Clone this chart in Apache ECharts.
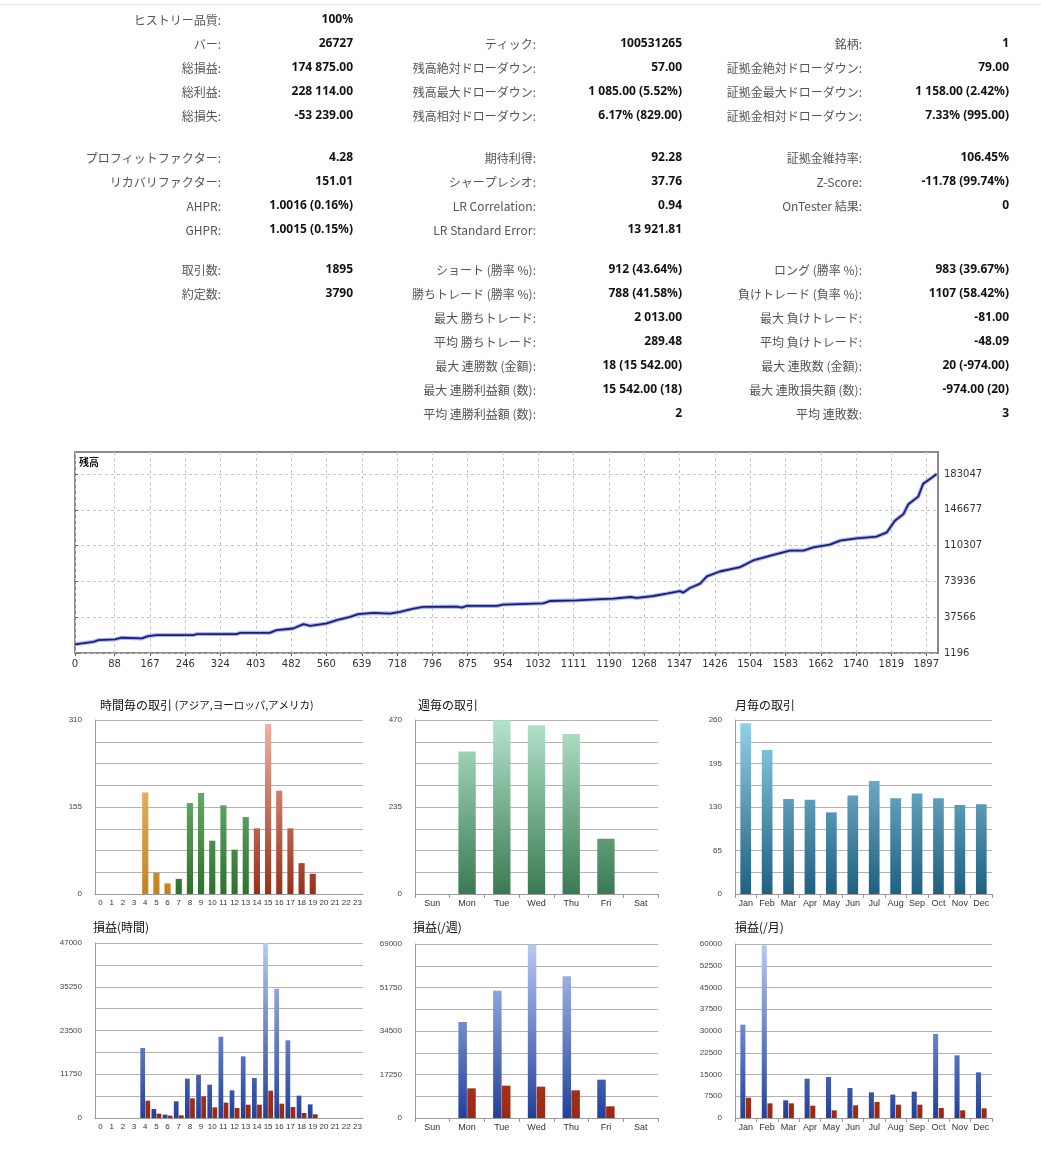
<!DOCTYPE html>
<html><head><meta charset="utf-8">
<script src="https://cdn.jsdelivr.net/npm/echarts@6/dist/echarts.min.js"></script>
<style>html,body{margin:0;padding:0;background:#fff}#c{width:1041px;height:1160px}</style>
</head><body><div id="c"></div>
<script>
// ---------- statistics table ----------
const statsTopLabels1 = ['ヒストリー品質:','バー:','総損益:','総利益:','総損失:'];
const statsTopValues1 = ['100%','26727','174 875.00','228 114.00','-53 239.00'];
const statsTopLabels2 = ['','ティック:','残高絶対ドローダウン:','残高最大ドローダウン:','残高相対ドローダウン:'];
const statsTopValues2 = ['','100531265','57.00','1 085.00 (5.52%)','6.17% (829.00)'];
const statsTopLabels3 = ['','銘柄:','証拠金絶対ドローダウン:','証拠金最大ドローダウン:','証拠金相対ドローダウン:'];
const statsTopValues3 = ['','1','79.00','1 158.00 (2.42%)','7.33% (995.00)'];
const statsMidLabels1 = ['プロフィットファクター:','リカバリファクター:','AHPR:','GHPR:'];
const statsMidValues1 = ['4.28','151.01','1.0016 (0.16%)','1.0015 (0.15%)'];
const statsMidLabels2 = ['期待利得:','シャープレシオ:','LR Correlation:','LR Standard Error:'];
const statsMidValues2 = ['92.28','37.76','0.94','13 921.81'];
const statsMidLabels3 = ['証拠金維持率:','Z-Score:','OnTester 結果:'];
const statsMidValues3 = ['106.45%','-11.78 (99.74%)','0'];
const statsBotLabels1 = ['取引数:','約定数:'];
const statsBotValues1 = ['1895','3790'];
const statsBotLabels2 = ['ショート (勝率 %):','勝ちトレード (勝率 %):','最大 勝ちトレード:','平均 勝ちトレード:','最大 連勝数 (金額):','最大 連勝利益額 (数):','平均 連勝利益額 (数):'];
const statsBotValues2 = ['912 (43.64%)','788 (41.58%)','2 013.00','289.48','18 (15 542.00)','15 542.00 (18)','2'];
const statsBotLabels3 = ['ロング (勝率 %):','負けトレード (負率 %):','最大 負けトレード:','平均 負けトレード:','最大 連敗数 (金額):','最大 連敗損失額 (数):','平均 連敗数:'];
const statsBotValues3 = ['983 (39.67%)','1107 (58.42%)','-81.00','-48.09','20 (-974.00)','-974.00 (20)','3'];

// ---------- balance curve ----------
const equityTitle = '残高';
const equityTrade = [0,41,52,89,104,149,163,182,264,271,360,368,434,449,486,509,524,561,583,613,631,665,702,724,754,776,850,862,873,940,954,1043,1058,1118,1162,1199,1237,1252,1289,1318,1348,1355,1370,1393,1408,1437,1482,1511,1556,1593,1623,1645,1682,1705,1742,1786,1809,1827,1846,1857,1879,1890,1909,1920];
const equityBalance = [10000,12600,14300,15000,16700,16000,18400,19400,19400,20400,20400,21700,21700,24400,26100,30500,28800,31200,34500,37900,40600,41900,41300,42900,46300,48000,48400,47400,49000,49000,50400,51700,54000,54700,55700,56400,58100,57100,59100,61500,64100,62500,67200,71600,79000,84000,88400,95200,100900,105300,105300,108600,111300,115400,117700,119400,123800,135600,142300,152400,160100,173200,179300,183047];
const equityXTicks = [0,88,167,246,324,403,482,560,639,718,796,875,954,1032,1111,1190,1268,1347,1426,1504,1583,1662,1740,1819,1897];
const equityYTicks = [1196,37566,73936,110307,146677,183047];

// ---------- distribution charts ----------
const chartTitles = ['時間毎の取引 (アジア,ヨーロッパ,アメリカ)','週毎の取引','月毎の取引','損益(時間)','損益(/週)','損益(/月)'];
const hours = ['0','1','2','3','4','5','6','7','8','9','10','11','12','13','14','15','16','17','18','19','20','21','22','23'];
const hourTrades = [0,0,0,0,181,38,19,27,162,180,95,158,79,137,117,303,184,117,55,36,0,0,0,0];
const weekDays = ['Sun','Mon','Tue','Wed','Thu','Fri','Sat'];
const weekTrades = [0,385,469,456,432,149,0];
const months = ['Jan','Feb','Mar','Apr','May','Jun','Jul','Aug','Sep','Oct','Nov','Dec'];
const monthTrades = [255,215,142,141,122,147,169,143,150,143,133,134];
const hourProfit = [0,0,0,0,18800,2420,900,4480,10560,11550,8950,21840,7430,16560,10740,46900,34740,20860,6000,3670,0,0,0,0];
const hourLoss = [0,0,0,0,4650,1160,630,720,5280,5820,2860,4120,2690,3580,3580,7340,3850,2950,1340,985,0,0,0,0];
const weekProfit = [0,38070,50490,68740,56180,15200,0];
const weekLoss = [0,11760,12820,12430,10970,4630,0];
const monthProfit = [32180,59540,6090,13560,14140,10340,8850,8050,9080,28970,21610,15750];
const monthLoss = [7010,5060,5060,4250,2640,4370,5520,4600,4600,3450,2640,3330];
const axisMax = [310,470,260,47000,69000,60000];
const labelEvery = [4,4,2,2,2,1];

// ---------- build ----------
const JP = '"Noto Sans CJK JP","Noto Sans",sans-serif';
const graphics = [];
graphics.push({type:'rect', shape:{x:0,y:4,width:1041,height:1}, style:{fill:'#e4e4e4'}, silent:true});
const labelRight = [221, 536, 862];
const valueRight = [353, 682, 1009];
function addBlock(labels, values, col, y0) {
  labels.forEach((l, i) => {
    const y = y0 + i * 24;
    if (l) graphics.push({type:'text', x:labelRight[col], y:y, silent:true,
      style:{text:l, textAlign:'right', textVerticalAlign:'middle', fontSize:12, fontFamily:JP, fill:'#555'}});
    if (values[i]) graphics.push({type:'text', x:valueRight[col], y:y, silent:true,
      style:{text:values[i], textAlign:'right', textVerticalAlign:'middle', fontSize:12, fontWeight:'bold', fontFamily:'"Noto Sans",sans-serif', fill:'#111'}});
  });
}
addBlock(statsTopLabels1, statsTopValues1, 0, 20);
addBlock(statsTopLabels2, statsTopValues2, 1, 20);
addBlock(statsTopLabels3, statsTopValues3, 2, 20);
addBlock(statsMidLabels1, statsMidValues1, 0, 158);
addBlock(statsMidLabels2, statsMidValues2, 1, 158);
addBlock(statsMidLabels3, statsMidValues3, 2, 158);
addBlock(statsBotLabels1, statsBotValues1, 0, 270);
addBlock(statsBotLabels2, statsBotValues2, 1, 270);
addBlock(statsBotLabels3, statsBotValues3, 2, 270);
graphics.push({type:'text', x:79, y:462, silent:true,
  style:{text:equityTitle, textAlign:'left', textVerticalAlign:'middle', fontSize:10, fontWeight:'bold', fontFamily:JP, fill:'#111'}});

const barGrids = [
  {left:95, top:720, width:268, height:174},
  {left:415, top:720, width:243, height:174},
  {left:735, top:720, width:257, height:174},
  {left:95, top:943, width:268, height:175},
  {left:415, top:944, width:243, height:174},
  {left:735, top:944, width:257, height:174}
];
const titlePos = [[100,699],[418,699],[735,699],[93,921],[413,921],[735,921]];

function grad(gi, c0, c1) {
  const g = barGrids[gi];
  return new echarts.graphic.LinearGradient(0, g.top, 0, g.top + g.height,
    [{offset:0, color:c0}, {offset:1, color:c1}], true);
}

const grids = [{left:75, top:452, width:863, height:201, show:true, borderColor:'#8a8a8a', borderWidth:2, backgroundColor:'#fff'}]
  .concat(barGrids);

const xAxes = [{
  type:'value', gridIndex:0, min:0, max:1923,
  axisLine:{show:false},
  axisTick:{show:true, customValues:equityXTicks, length:3, lineStyle:{color:'#666'}},
  axisLabel:{customValues:equityXTicks, fontSize:10, color:'#333', margin:6, fontFamily:'"DejaVu Sans",sans-serif',
    formatter:v => String(Math.round(v))},
  splitLine:{show:true, lineStyle:{color:'#c6c6c6', type:[3,3]}}
}];
const yAxes = [{
  type:'value', gridIndex:0, position:'right', min:1196, max:205400,
  axisLine:{show:false},
  axisTick:{show:true, customValues:equityYTicks, length:3, lineStyle:{color:'#666'}},
  axisLabel:{customValues:equityYTicks, fontSize:10, color:'#333', margin:6, fontFamily:'"DejaVu Sans",sans-serif', formatter:v => String(Math.round(v))},
  splitLine:{show:true, lineStyle:{color:'#c6c6c6', type:[3,3]}}
}];
const catData = [hours, weekDays, months, hours, weekDays, months];
for (let i = 0; i < 6; i++) {
  const ticks = !(i === 0 || i === 3);
  xAxes.push({type:'category', gridIndex:i+1, data:catData[i], boundaryGap:true,
    axisLine:{lineStyle:{color:'#9a9a9a'}},
    axisTick:{show:ticks, length:4, lineStyle:{color:'#9a9a9a'}},
    axisLabel:{interval:0, fontSize:(i===0||i===3)?8:9, color:'#333', margin:5, fontFamily:'"Liberation Sans",sans-serif'}});
  const iv = axisMax[i] / 8;
  const every = labelEvery[i];
  yAxes.push({type:'value', gridIndex:i+1, min:0, max:axisMax[i], interval:iv,
    axisLine:{show:true, lineStyle:{color:'#9a9a9a'}}, axisTick:{show:false},
    splitLine:{lineStyle:{color:'#b2b2b2'}},
    axisLabel:{fontSize:8, color:'#444', margin:13, fontFamily:'"Liberation Sans",sans-serif',
      formatter:v => (Math.round(v / iv) % every === 0 ? String(Math.round(v)) : '')}});
}

const sessionColor = {
  asia: grad(0, '#f6cf84', '#c2831f'),
  europe: grad(0, '#8fcf8f', '#2b722b'),
  america: grad(0, '#f2b4a4', '#983018')
};
const hourSession = h => h < 7 ? 'asia' : (h < 14 ? 'europe' : 'america');

const series = [
  {type:'line', xAxisIndex:0, yAxisIndex:0, data:equityTrade.map((t,i)=>[t, equityBalance[i]]),
    showSymbol:false, lineStyle:{color:'#aab4ec', width:4}, silent:true, z:2},
  {type:'line', xAxisIndex:0, yAxisIndex:0, data:equityTrade.map((t,i)=>[t, equityBalance[i]]),
    showSymbol:false, lineStyle:{color:'#1c1c80', width:1.8}, silent:true, z:3},
  {type:'bar', xAxisIndex:1, yAxisIndex:1, barWidth:'55%',
    data:hourTrades.map((v,i)=>({value:v, itemStyle:{color:sessionColor[hourSession(i)]}}))},
  {type:'bar', xAxisIndex:2, yAxisIndex:2, barWidth:'50%', data:weekTrades,
    itemStyle:{color:grad(1, '#b4e4cc', '#3a7a52')}},
  {type:'bar', xAxisIndex:3, yAxisIndex:3, barWidth:'50%', data:monthTrades,
    itemStyle:{color:grad(2, '#92d2ea', '#1f5f80')}},
  {type:'bar', xAxisIndex:4, yAxisIndex:4, data:hourProfit, barGap:'8%', barCategoryGap:'12%',
    itemStyle:{color:grad(3, '#b6caf2', '#22409c')}},
  {type:'bar', xAxisIndex:4, yAxisIndex:4, data:hourLoss, barGap:'8%', barCategoryGap:'12%',
    itemStyle:{color:grad(3, '#e05a3c', '#9a2812')}},
  {type:'bar', xAxisIndex:5, yAxisIndex:5, data:weekProfit, barGap:'4%', barCategoryGap:'50%',
    itemStyle:{color:grad(4, '#b6caf2', '#22409c')}},
  {type:'bar', xAxisIndex:5, yAxisIndex:5, data:weekLoss, barGap:'4%', barCategoryGap:'50%',
    itemStyle:{color:grad(4, '#e05a3c', '#9a2812')}},
  {type:'bar', xAxisIndex:6, yAxisIndex:6, data:monthProfit, barGap:'12%', barCategoryGap:'50%',
    itemStyle:{color:grad(5, '#b6caf2', '#22409c')}},
  {type:'bar', xAxisIndex:6, yAxisIndex:6, data:monthLoss, barGap:'12%', barCategoryGap:'50%',
    itemStyle:{color:grad(5, '#e05a3c', '#9a2812')}}
];

// titles: the parenthesised part of a title is set a little smaller (narrow kana in the original)
const titles = chartTitles.map((t,i)=>{
  const k = t.indexOf(' (');
  const txt = k > 0 ? '{a|' + t.slice(0,k) + ' }{b|' + t.slice(k+1) + '}' : '{a|' + t + '}';
  return {text:txt, left:titlePos[i][0], top:titlePos[i][1], padding:0,
    textStyle:{fontSize:12, fontWeight:'normal', color:'#111', fontFamily:JP,
      rich:{a:{fontSize:12, color:'#111', fontFamily:JP}, b:{fontSize:10.5, color:'#111', fontFamily:JP}}}};
});

const chart = echarts.init(document.getElementById('c'), null, {renderer:'canvas', width:1041, height:1160});
chart.setOption({
  animation:false,
  backgroundColor:'#fff',
  title:titles,
  grid:grids,
  xAxis:xAxes,
  yAxis:yAxes,
  series:series,
  graphic:graphics
});
</script></body></html>
